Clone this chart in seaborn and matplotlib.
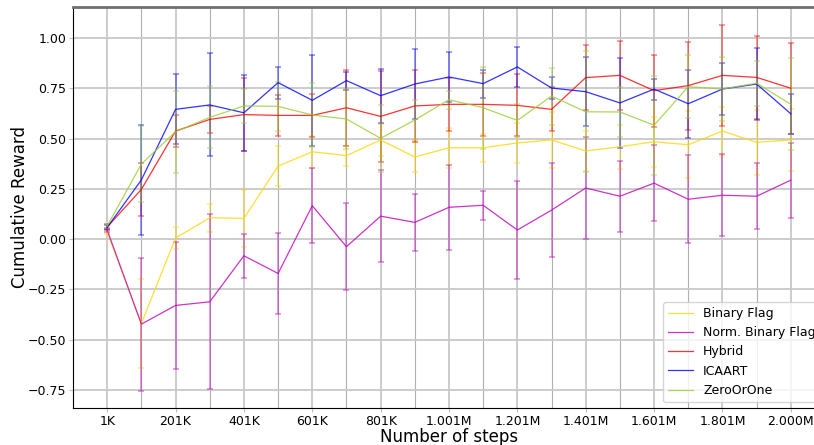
import matplotlib
matplotlib.use("Agg")
import matplotlib.pyplot as plt
import seaborn as sn
import numpy as np
import pandas as pd

# steps (every 100K), labels shown every 200K
steps = ["1K", "101K", "201K", "301K", "401K", "501K", "601K", "701K", "801K", "901K",
         "1.001M", "1.101M", "1.201M", "1.301M", "1.401M", "1.501M", "1.601M", "1.701M",
         "1.801M", "1.901M", "2.000M"]

binary_flag = [0.035, -0.42, 0.005, 0.106, 0.103, 0.363, 0.434, 0.415, 0.493, 0.408,
               0.454, 0.454, 0.478, 0.493, 0.438, 0.459, 0.484, 0.469, 0.537, 0.481, 0.493]
binary_flag_err = [0.01, 0.22, 0.054, 0.069, 0.141, 0.10, 0.08, 0.05, 0.08, 0.075,
                   0.10, 0.07, 0.10, 0.14, 0.10, 0.11, 0.125, 0.167, 0.122, 0.16, 0.156]

norm_binary_flag = [0.045, -0.423, -0.33, -0.312, -0.083, -0.171, 0.166, -0.038, 0.114, 0.083,
                    0.158, 0.168, 0.045, 0.144, 0.254, 0.213, 0.278, 0.198, 0.218, 0.213, 0.293]
norm_binary_flag_err = [0.01, 0.33, 0.316, 0.436, 0.11, 0.20, 0.187, 0.215, 0.227, 0.14,
                        0.21, 0.071, 0.245, 0.234, 0.253, 0.176, 0.189, 0.219, 0.203, 0.165, 0.186]

hybrid = [0.06, 0.247, 0.537, 0.595, 0.619, 0.615, 0.615, 0.653, 0.610, 0.662,
          0.670, 0.670, 0.665, 0.645, 0.803, 0.814, 0.738, 0.763, 0.814, 0.804, 0.75]
hybrid_err = [0.015, 0.13, 0.078, 0.066, 0.18, 0.10, 0.107, 0.19, 0.227, 0.179,
              0.133, 0.158, 0.154, 0.11, 0.16, 0.17, 0.179, 0.219, 0.251, 0.207, 0.227]

icaart = [0.058, 0.294, 0.645, 0.667, 0.628, 0.778, 0.69, 0.788, 0.713, 0.771,
          0.806, 0.773, 0.856, 0.751, 0.733, 0.677, 0.746, 0.673, 0.746, 0.771, 0.623]
icaart_err = [0.01, 0.272, 0.174, 0.256, 0.19, 0.08, 0.226, 0.045, 0.135, 0.172,
              0.126, 0.07, 0.10, 0.054, 0.17, 0.222, 0.052, 0.168, 0.13, 0.181, 0.10]

zero_or_one = [0.065, 0.373, 0.534, 0.605, 0.662, 0.66, 0.617, 0.597, 0.501, 0.592,
               0.693, 0.653, 0.59, 0.711, 0.633, 0.632, 0.566, 0.758, 0.746, 0.775, 0.670]
zero_or_one_err = [0.01, 0.188, 0.204, 0.154, 0.084, 0.123, 0.16, 0.149, 0.165, 0.10,
                   0.045, 0.204, 0.08, 0.142, 0.30, 0.122, 0.245, 0.156, 0.157, 0.112, 0.229]

methods = ["Binary Flag", "Norm. Binary Flag", "Hybrid", "ICAART", "ZeroOrOne"]
means = [binary_flag, norm_binary_flag, hybrid, icaart, zero_or_one]
errs = [binary_flag_err, norm_binary_flag_err, hybrid_err, icaart_err, zero_or_one_err]
colors = ["gold", "m", "r", "b", "yellowgreen"]
palette_dict = {m: c for m, c in zip(methods, colors)}

rows = []
for m, vals in zip(methods, means):
    for i, v in enumerate(vals):
        rows.append({"step": i, "reward": v, "method": m})
df = pd.DataFrame(rows)

fig = plt.figure(figsize=(8.14, 4.45), dpi=100)
ax = fig.add_axes([73 / 814, 37 / 445, 752 / 814, 401 / 445])

sn.lineplot(data=df, x="step", y="reward", hue="method", palette=palette_dict,
            ax=ax, linewidth=0.9, alpha=0.8, zorder=3)

x = np.arange(len(steps))
for m, vals, e in zip(methods, means, errs):
    ax.errorbar(x, vals, yerr=e, fmt="none", ecolor=palette_dict[m], alpha=0.45,
                elinewidth=1.2, capsize=2, capthick=1.2, zorder=2)

ax.set_xlim(-1, 21)
ax.set_ylim(-0.84, 1.154)
ax.set_xticks(x[::2])
ax.set_xticklabels(steps[::2])
ax.set_xticks(x[1::2], minor=True)
ax.set_yticks([-0.75, -0.5, -0.25, 0.0, 0.25, 0.5, 0.75, 1.0])

ax.grid(True, which="major", color="#c8c8c8", linewidth=1.3)
ax.grid(True, which="minor", axis="x", color="#b0b0b0", linewidth=0.8)
ax.set_axisbelow(True)
ax.tick_params(axis="both", which="major", length=3, pad=2, color="#c0c0c0", labelsize=9)
ax.tick_params(axis="x", which="minor", length=0)

ax.spines["top"].set_color("#707070")
ax.spines["top"].set_linewidth(2)
ax.spines["right"].set_visible(False)

ax.set_xlabel("Number of steps", fontsize=12)
ax.set_ylabel("Cumulative Reward", fontsize=12)
ax.xaxis.set_label_coords(0.5, -0.05)
ax.yaxis.set_label_coords(-0.058, 0.5)

handles, labels = ax.get_legend_handles_labels()
ax.legend(handles, labels, loc="lower left", fontsize=9,
          bbox_to_anchor=((663 - 73) / 752, 6 / 401), borderaxespad=0)

fig.savefig("out.png", dpi=100)
